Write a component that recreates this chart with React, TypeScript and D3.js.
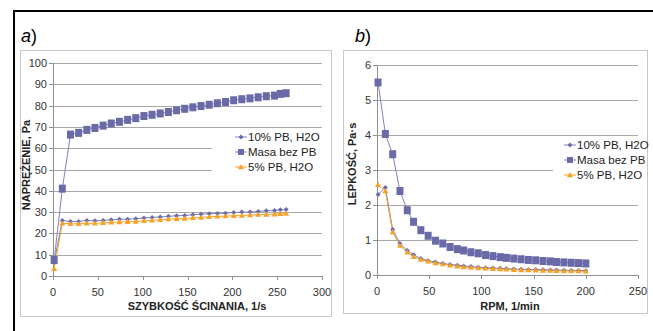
import React from "react";
import * as d3 from "d3";

// shear rate (1/s) for panel a, RPM for panel b
const shearRate = [1.3, 10.4, 19.5, 28.6, 37.7, 46.8, 55.9, 65, 74.1, 83.2, 92.3, 101.4, 110.5, 119.6, 128.7, 137.8, 146.9, 156, 165.1, 174.2, 183.3, 192.4, 201.5, 210.6, 219.7, 228.8, 237.9, 247, 253.5, 260];
const rpm = [1, 8, 15, 22, 29, 35, 42, 49, 56, 63, 70, 77, 83, 90, 97, 104, 111, 118, 124, 131, 138, 145, 152, 159, 166, 172, 179, 186, 193, 200];

const stress10 = [6.5, 26.1, 25.6, 25.6, 26.1, 25.9, 26.1, 26.4, 26.6, 26.7, 26.9, 27.2, 27.5, 27.7, 28.0, 28.3, 28.4, 28.8, 29.0, 29.2, 29.4, 29.5, 29.8, 30.0, 30.0, 30.3, 30.6, 30.8, 31.1, 31.2];
const stressMasa = [7.5, 41, 66.4, 67.2, 68.6, 69.5, 70.6, 71.6, 72.4, 73.3, 74.1, 75.1, 75.7, 76.3, 77.0, 77.8, 78.5, 79.2, 79.8, 80.4, 81.1, 81.7, 82.5, 83.0, 83.4, 83.9, 84.4, 84.7, 85.5, 85.8];
const stress5 = [3.4, 24.8, 24.5, 24.5, 24.8, 24.7, 25.0, 25.2, 25.3, 25.5, 25.6, 25.9, 26.1, 26.4, 26.7, 26.9, 27.0, 27.3, 27.5, 27.8, 28.0, 28.1, 28.3, 28.4, 28.6, 28.8, 28.9, 29.0, 29.2, 29.3];

const visc10 = [2.3, 2.5, 1.3, 0.9, 0.7, 0.58, 0.47, 0.41, 0.37, 0.33, 0.3, 0.28, 0.26, 0.24, 0.22, 0.21, 0.2, 0.19, 0.18, 0.17, 0.165, 0.16, 0.155, 0.15, 0.145, 0.14, 0.135, 0.13, 0.13, 0.125];
const viscMasa = [5.5, 4.03, 3.45, 2.4, 1.85, 1.52, 1.28, 1.12, 0.98, 0.9, 0.8, 0.74, 0.7, 0.65, 0.62, 0.57, 0.54, 0.51, 0.49, 0.47, 0.45, 0.43, 0.42, 0.4, 0.39, 0.37, 0.36, 0.35, 0.34, 0.33];
const visc5 = [2.58, 2.4, 1.23, 0.84, 0.65, 0.52, 0.44, 0.39, 0.34, 0.31, 0.28, 0.25, 0.23, 0.21, 0.2, 0.19, 0.18, 0.17, 0.16, 0.15, 0.145, 0.14, 0.135, 0.13, 0.125, 0.12, 0.115, 0.11, 0.11, 0.105];

const seriesNames = ["10% PB, H2O", "Masa bez PB", "5% PB, H2O"];
const ticksA = [0, 10, 20, 30, 40, 50, 60, 70, 80, 90, 100];
const ticksAx = [0, 50, 100, 150, 200, 250, 300];
const ticksB = [0, 1, 2, 3, 4, 5, 6];
const ticksBx = [0, 50, 100, 150, 200, 250];

const PURPLE = "#6a6aa8";
const PURPLE_LINE = "#8080c0";
const ORANGE = "#f7a128";
const FONT = "Liberation Sans, Arial, sans-serif";

type Cfg = {
  frame: [number, number, number, number];
  x0: number; x1: number; y0: number; y1: number;
  xDomain: [number, number]; yDomain: [number, number];
  xTicks: number[]; yTicks: number[];
  xs: number[]; data: number[][];
  label: string; labelX: number;
  yTitle: string; yTitleX: number; yTitleY: number;
  xTitle: string; xTitleX: number; xTitleY: number;
  legendX: number; legendY: number; legendLeft: number;
};

function Panel(c: Cfg) {
  const x = d3.scaleLinear().domain(c.xDomain).range([c.x0, c.x1]);
  const y = d3.scaleLinear().domain(c.yDomain).range([c.y0, c.y1]);
  const line = d3.line<number>().x((_, i) => x(c.xs[i])).y((d) => y(d));
  const [fx, fy, fw, fh] = c.frame;
  const diamond = (px: number, py: number) =>
    `M${px},${py - 2.5}L${px + 2.5},${py}L${px},${py + 2.5}L${px - 2.5},${py}Z`;
  const tri = (px: number, py: number) =>
    `M${px},${py - 3}L${px + 3},${py + 2.2}L${px - 3},${py + 2.2}Z`;
  const ly = (i: number) => c.legendY + i * 15;
  return (
    <g fontFamily={FONT}>
      <text x={c.labelX} y={42} fontSize={18}>
        <tspan fontStyle="italic">{c.label}</tspan>)
      </text>
      <rect x={fx + 0.5} y={fy + 0.5} width={fw} height={fh} fill="#fff" stroke="#c8c8c8" />
      {c.yTicks.map((t) => (
        <g key={t}>
          {t > 0 && <line x1={c.x0} x2={c.x1} y1={Math.round(y(t)) + 0.5} y2={Math.round(y(t)) + 0.5} stroke="#a8a8a8" />}
          <line x1={c.x0 - 4} x2={c.x0} y1={Math.round(y(t)) + 0.5} y2={Math.round(y(t)) + 0.5} stroke="#909090" />
          <text x={c.x0 - 6} y={y(t) + 4} fontSize={11} textAnchor="end" fill="#333">{t}</text>
        </g>
      ))}
      {/* legend background */}
      <rect x={c.legendLeft} y={c.legendY - 11} width={c.x1 - c.legendLeft} height={44} fill="#fff" />
      <line x1={c.x0 + 0.5} x2={c.x0 + 0.5} y1={c.y1} y2={c.y0} stroke="#909090" />
      <line x1={c.x0} x2={c.x1} y1={Math.round(c.y0) + 0.5} y2={Math.round(c.y0) + 0.5} stroke="#909090" />
      {c.xTicks.map((t) => (
        <g key={t}>
          <line x1={Math.round(x(t)) + 0.5} x2={Math.round(x(t)) + 0.5} y1={c.y0} y2={c.y0 + 4} stroke="#909090" />
          <text x={x(t)} y={c.y0 + 20} fontSize={11} textAnchor="middle" fill="#333">{t}</text>
        </g>
      ))}
      <path d={line(c.data[0]) || ""} fill="none" stroke={PURPLE_LINE} strokeWidth={1} />
      <path d={line(c.data[1]) || ""} fill="none" stroke={PURPLE_LINE} strokeWidth={1} />
      <path d={line(c.data[2]) || ""} fill="none" stroke={ORANGE} strokeWidth={1} />
      {c.data[1].map((d, i) => (
        <rect key={"s" + i} x={x(c.xs[i]) - 3.5} y={y(d) - 4} width={7} height={8} fill={PURPLE} />
      ))}
      {c.data[0].map((d, i) => (
        <path key={"d" + i} d={diamond(x(c.xs[i]), y(d))} fill={PURPLE} />
      ))}
      {c.data[2].map((d, i) => (
        <path key={"t" + i} d={tri(x(c.xs[i]), y(d))} fill={ORANGE} />
      ))}
      <text transform={`translate(${c.yTitleX},${c.yTitleY}) rotate(-90)`} fontSize={11} fontWeight="bold" textAnchor="middle" fill="#222">{c.yTitle}</text>
      <text x={c.xTitleX} y={c.xTitleY} fontSize={11} fontWeight="bold" textAnchor="middle" fill="#222">{c.xTitle}</text>
      {seriesNames.map((n, i) => {
        const col = i === 2 ? ORANGE : PURPLE;
        const mx = c.legendX - 7;
        return (
          <g key={n}>
            <line x1={c.legendX - 13} x2={c.legendX - 1} y1={ly(i) - 4} y2={ly(i) - 4} stroke={i === 2 ? ORANGE : PURPLE_LINE} />
            {i === 0 && <path d={diamond(mx, ly(i) - 4)} fill={col} />}
            {i === 1 && <rect x={mx - 3} y={ly(i) - 7} width={6} height={6} fill={col} />}
            {i === 2 && <path d={tri(mx, ly(i) - 4)} fill={col} />}
            <text x={c.legendX} y={ly(i)} fontSize={11.5} fill="#222">{n}</text>
          </g>
        );
      })}
    </g>
  );
}

export default function App() {
  return (
    <svg width={653} height={331} style={{ position: "absolute", left: 0, top: 0, background: "#fff" }}>
      <path d="M14,331V11H653" fill="none" stroke="#000" strokeWidth={2} />
      <Panel
        frame={[20, 50, 311, 266]}
        x0={53} x1={322} y0={276} y1={63}
        xDomain={[0, 300]} yDomain={[0, 100]}
        xTicks={ticksAx} yTicks={ticksA}
        xs={shearRate} data={[stress10, stressMasa, stress5]}
        label="a" labelX={21}
        yTitle="NAPRĘŻENIE, Pa" yTitleX={30} yTitleY={165}
        xTitle="SZYBKOŚĆ ŚCINANIA, 1/s" xTitleX={197} xTitleY={310}
        legendX={248} legendY={141} legendLeft={212}
      />
      <Panel
        frame={[343, 50, 304, 263]}
        x0={377} x1={638} y0={275} y1={65}
        xDomain={[0, 250]} yDomain={[0, 6]}
        xTicks={ticksBx} yTicks={ticksB}
        xs={rpm} data={[visc10, viscMasa, visc5]}
        label="b" labelX={355}
        yTitle="LEPKOŚĆ, Pa·s" yTitleX={356} yTitleY={164}
        xTitle="RPM, 1/min" xTitleX={510} xTitleY={310}
        legendX={577} legendY={149} legendLeft={553}
      />
    </svg>
  );
}
